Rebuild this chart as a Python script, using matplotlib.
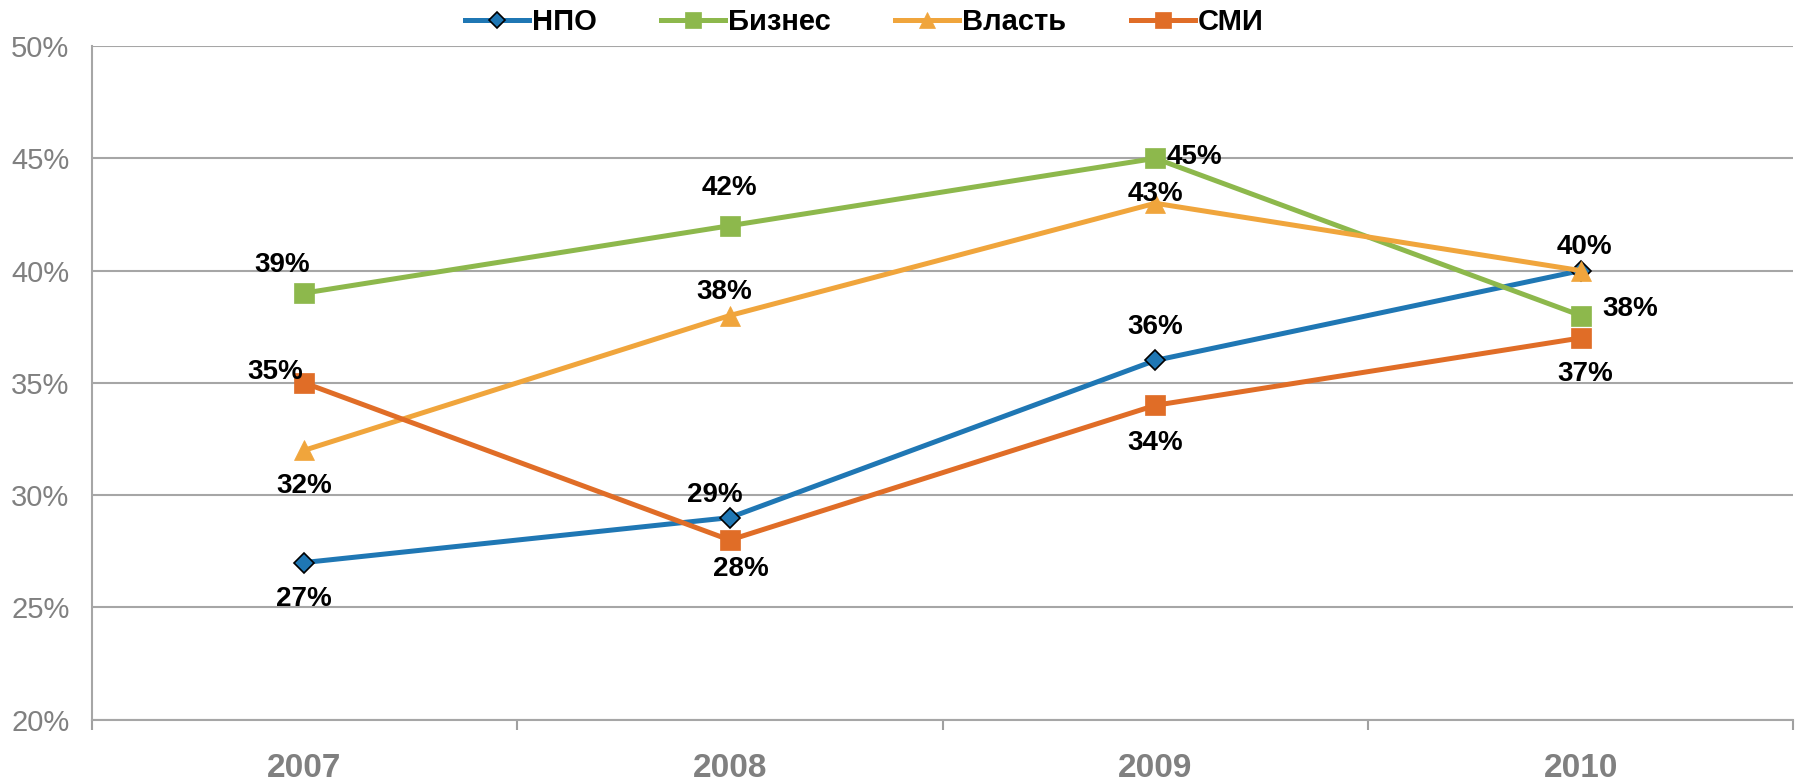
import matplotlib.pyplot as plt
from matplotlib.ticker import PercentFormatter

plt.rcParams['font.family'] = ['Liberation Sans', 'DejaVu Sans']

years = ["2007", "2008", "2009", "2010"]
npo = [27, 29, 36, 40]
biz = [39, 42, 45, 38]
vlast = [32, 38, 43, 40]
smi = [35, 28, 34, 37]

series = [
    ("НПО", npo, "#1F77B4", "D", 10),
    ("Бизнес", biz, "#8DB84C", "s", 15),
    ("Власть", vlast, "#F0A53C", "^", 15),
    ("СМИ", smi, "#E06D27", "s", 14),
]

# label offsets (points) per series and point; None = no label
offsets = {
    "НПО": [(0, -26), (-11, 16), (0, 24), (3, 17)],
    "Бизнес": [(-16, 20), (0, 27), (28, 1), (36, 5)],
    "Власть": [(0, -26), (-4, 17), (0, 7), None],
    "СМИ": [(-21, 8), (8, -21), (0, -27), (3, -26)],
}

fig = plt.figure(figsize=(17.97, 7.81), dpi=100)
ax = fig.add_axes([0.051, 0.0785, 0.947, 0.8625])
x = range(len(years))

for name, vals, color, marker, ms in series:
    mec = "black" if marker == "D" else color
    ax.plot(x, vals, color=color, lw=3.6, marker=marker, ms=ms,
            mfc=color, mec=mec, mew=1.2 if marker == "D" else 0.5, label=name, zorder=3)
    for i, v in enumerate(vals):
        off = offsets[name][i]
        if off is None:
            continue
        ax.annotate(f"{v}%", (i, v), xytext=off, textcoords="offset points",
                    ha="center", va="center", fontsize=20, fontweight="bold",
                    color="black", zorder=5)

ax.set_xlim(-0.5, 3.5)
ax.set_ylim(20, 50)
ax.set_yticks(range(20, 51, 5))
ax.yaxis.set_major_formatter(PercentFormatter(decimals=0))
ax.set_xticks(list(x))
ax.set_xticklabels(years, fontsize=24, fontweight="bold", color="#808080")
ax.set_xticks([-0.5, 0.5, 1.5, 2.5, 3.5], minor=True)
ax.tick_params(axis="x", which="major", length=0, pad=24)
ax.tick_params(axis="x", which="minor", length=7, color="#A0A0A0", width=1.5)
ax.tick_params(axis="y", length=0, labelsize=21, labelcolor="#808080", pad=16)
ax.grid(axis="y", color="#A6A6A6", lw=1.5)
ax.set_axisbelow(True)
for s in ["top", "right"]:
    ax.spines[s].set_visible(False)
ax.spines["left"].set_color("#A6A6A6")
ax.spines["left"].set_linewidth(1.5)
ax.spines["bottom"].set_color("#A6A6A6")
ax.spines["bottom"].set_linewidth(1.5)

leg = fig.legend(loc="center", bbox_to_anchor=(0.481, 0.972), ncol=4, frameon=False,
                 prop={"size": 21, "weight": "bold"}, handlelength=2.2,
                 columnspacing=2.2, handletextpad=0.1, markerscale=0.8)

fig.savefig("out.png", dpi=100)
